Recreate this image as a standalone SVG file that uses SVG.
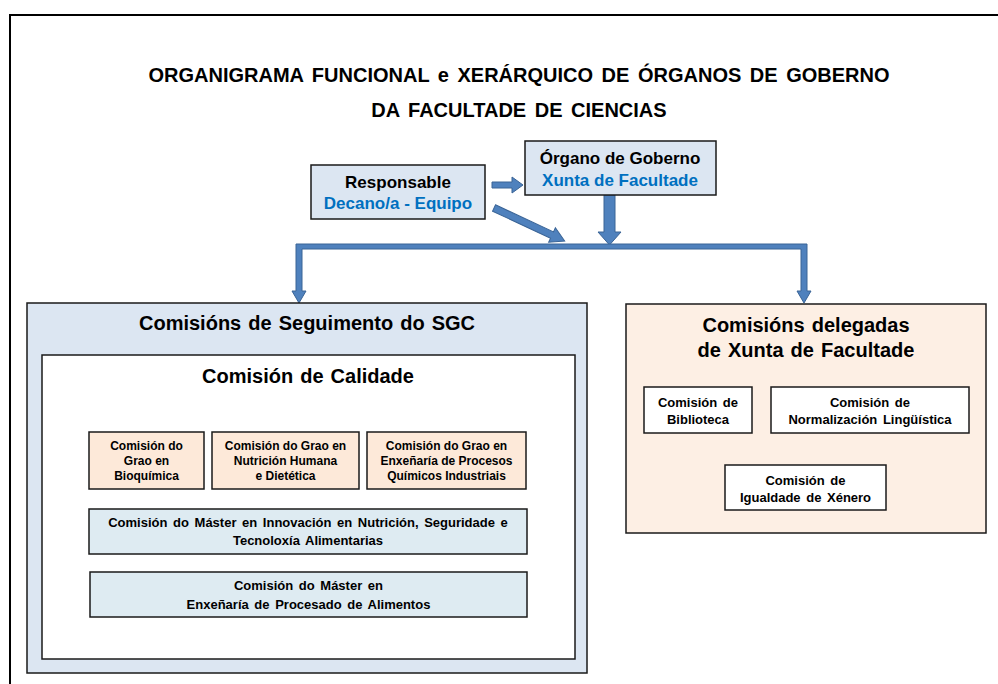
<svg xmlns="http://www.w3.org/2000/svg" width="998" height="684" viewBox="0 0 998 684">
<style>
text{font-family:"Liberation Sans",Arial,sans-serif;font-weight:bold;text-anchor:middle;fill:#000}
.ttl{font-size:20px;word-spacing:3px}
.big{font-size:20px;word-spacing:1.5px}
.hd{font-size:17px}
.blue{fill:#0070C0}
.sm{font-size:12px}
.md{font-size:13px;word-spacing:2px}
.box{stroke:#1a1a1a;stroke-width:1.5}
.lb{fill:#DCE6F2}
.pe{fill:#FDE9D9}
.pe2{fill:#FDEFE4}
.cy{fill:#DEEBF2}
.wh{fill:#fff}
.arr{fill:#4F81BD;stroke:#3A6496;stroke-width:1}
</style>
<rect x="0" y="0" width="998" height="684" fill="#fff"/>
<rect x="10" y="15" width="1000" height="700" fill="none" stroke="#000" stroke-width="2"/>
<g id="title">
<text class="ttl" x="519" y="82">ORGANIGRAMA FUNCIONAL e XERÁRQUICO DE ÓRGANOS DE GOBERNO</text>
<text class="ttl" x="519" y="117">DA FACULTADE DE CIENCIAS</text>
</g>
<g id="connectors">
<path class="arr" d="M492,182 H512 V177 L523,185 L512,193 V188 H492 Z"/>
<path class="arr" transform="translate(494,208) rotate(25)" d="M0,-3.5 H64 V-8 L78,0 L64,8 V3.5 H0 Z"/>
<path class="arr" d="M604,195 H615 V232 H621 L609.5,245 L598,232 H604 Z"/>
<path class="arr" d="M296,249 V291 H292 L299,303 L306,291 H302 V249 H801 V291 H797 L804,303 L811,291 H807 V244 H296 Z"/>
</g>
<g id="responsable">
<rect class="box lb" x="311" y="165" width="174" height="54"/>
<text class="hd" x="398" y="188">Responsable</text>
<text class="hd blue" x="398" y="209">Decano/a - Equipo</text>
</g>
<g id="organo">
<rect class="box lb" x="525" y="141" width="191" height="54"/>
<text class="hd" x="620" y="164">Órgano de Goberno</text>
<text class="hd blue" x="620" y="186">Xunta de Facultade</text>
</g>
<g id="seguimento">
<rect class="box lb" x="27" y="303" width="560" height="370"/>
<text class="big" x="307" y="330">Comisións de Seguimento do SGC</text>
</g>
<g id="calidade">
<rect class="box wh" x="42" y="355" width="533" height="304"/>
<text class="big" x="308" y="383">Comisión de Calidade</text>
</g>
<g id="bioquimica">
<rect class="box pe" x="89" y="432" width="115" height="57"/>
<text class="sm" x="146.5" y="450">Comisión do</text>
<text class="sm" x="146.5" y="465">Grao en</text>
<text class="sm" x="146.5" y="480">Bioquímica</text>
</g>
<g id="nutricion">
<rect class="box pe" x="212" y="432" width="147" height="57"/>
<text class="sm" x="285.5" y="450">Comisión do Grao en</text>
<text class="sm" x="285.5" y="465">Nutrición Humana</text>
<text class="sm" x="285.5" y="480">e Dietética</text>
</g>
<g id="procesos">
<rect class="box pe" x="367" y="432" width="159" height="57"/>
<text class="sm" x="446.5" y="450">Comisión do Grao en</text>
<text class="sm" x="446.5" y="465">Enxeñaría de Procesos</text>
<text class="sm" x="446.5" y="480">Químicos Industriais</text>
</g>
<g id="master1">
<rect class="box cy" x="89" y="509" width="438" height="45"/>
<text class="md" x="308" y="527">Comisión do Máster en Innovación en Nutrición, Seguridade e</text>
<text class="md" x="308" y="545">Tecnoloxía Alimentarias</text>
</g>
<g id="master2">
<rect class="box cy" x="90" y="572" width="437" height="45"/>
<text class="md" x="308.5" y="590">Comisión do Máster en</text>
<text class="md" x="308.5" y="609">Enxeñaría de Procesado de Alimentos</text>
</g>
<g id="delegadas">
<rect class="box pe2" x="626" y="304" width="360" height="229"/>
<text class="big" x="806" y="332">Comisións delegadas</text>
<text class="big" x="806" y="357">de Xunta de Facultade</text>
</g>
<g id="biblioteca">
<rect class="box wh" x="644" y="387" width="108" height="46"/>
<text class="md" x="698" y="407">Comisión de</text>
<text class="md" x="698" y="424">Biblioteca</text>
</g>
<g id="normalizacion">
<rect class="box wh" x="771" y="387" width="198" height="46"/>
<text class="md" x="870" y="407">Comisión de</text>
<text class="md" x="870" y="424">Normalización Lingüística</text>
</g>
<g id="igualdade">
<rect class="box wh" x="725" y="465" width="161" height="45"/>
<text class="md" x="805.5" y="485">Comisión de</text>
<text class="md" x="805.5" y="502">Igualdade de Xénero</text>
</g>
</svg>
